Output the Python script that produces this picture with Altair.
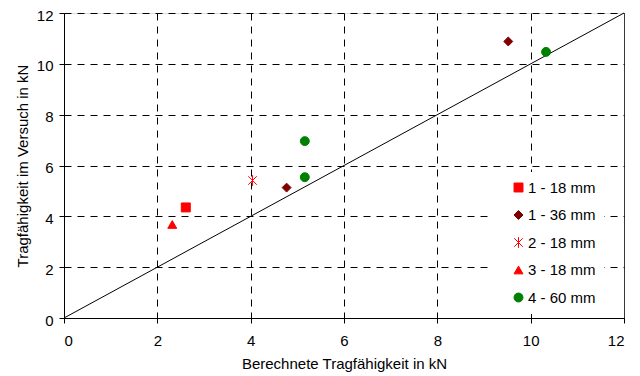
import altair as alt
import pandas as pd

series = ["1 - 18 mm", "1 - 36 mm", "1 - 36 mm", "2 - 18 mm", "3 - 18 mm", "4 - 60 mm", "4 - 60 mm", "4 - 60 mm"]
berechnet = [2.61, 4.77, 9.52, 4.04, 2.32, 5.16, 5.16, 10.33]
versuch = [4.35, 5.13, 10.88, 5.41, 3.68, 6.96, 5.54, 10.47]

legend_names = ["1 - 18 mm", "1 - 36 mm", "2 - 18 mm", "3 - 18 mm", "4 - 60 mm"]
legend_colors = ["#FF0000", "#800000", "#FF0000", "#FF0000", "#008000"]
legend_shapes = ["square", "diamond",
                 "M-0.95,-0.95L0.95,0.95M-0.95,0.95L0.95,-0.95M0,-1.2L0,1.2",
                 "triangle-up", "circle"]

line_x = [0, 12]
line_y = [0, 12]
ticks = [0, 2, 4, 6, 8, 10, 12]

df = pd.DataFrame({"Serie": series, "x": berechnet, "y": versuch})
ldf = pd.DataFrame({"x": line_x, "y": line_y})

FONT = "Liberation Sans"
FS = 15
DASH = [7, 6]

xscale = alt.Scale(domain=[0, 12], nice=False, zero=True)
yscale = alt.Scale(domain=[0, 12], nice=False, zero=True)

xaxis = alt.Axis(values=ticks, title="Berechnete Tragfähigkeit in kN", grid=True,
                 gridDash=alt.condition("datum.value == 12", alt.value([1, 0]), alt.value(DASH)),
                 gridColor="#000000", gridOpacity=1, gridWidth=1,
                 domainColor="#000000", tickColor="#000000", tickSize=5,
                 labelPadding=10, titlePadding=8, labelFont=FONT, titleFont=FONT,
                 labelFontSize=FS, titleFontSize=FS, labelColor="#000000",
                 titleColor="#000000", titleFontWeight="normal")
yaxis = alt.Axis(values=ticks, title="Tragfähigkeit im Versuch in kN", grid=True,
                 gridDash=DASH, gridColor="#000000", gridOpacity=1, gridWidth=1,
                 domainColor="#000000", tickColor="#000000", tickSize=5,
                 labelPadding=6, labelOffset=2, titlePadding=5.5, labelFont=FONT,
                 titleFont=FONT, labelFontSize=FS, titleFontSize=FS,
                 labelColor="#000000", titleColor="#000000", titleFontWeight="normal")

line = alt.Chart(ldf).mark_line(color="#000000", strokeWidth=1).encode(
    x=alt.X("x:Q", scale=xscale, axis=xaxis),
    y=alt.Y("y:Q", scale=yscale, axis=yaxis),
)

cscale = alt.Scale(domain=legend_names, range=legend_colors)
legend = alt.Legend(title=None, orient="none", legendX=424, legendY=159,
                    labelFont=FONT, labelFontSize=FS, labelColor="#000000",
                    rowPadding=11.5, symbolStrokeWidth=1, padding=8, labelOffset=2,
                    symbolOffset=15, symbolSize=80, fillColor="#FFFFFF")

points = alt.Chart(df).mark_point(filled=True, size=80, strokeWidth=1, opacity=1).encode(
    x=alt.X("x:Q", scale=xscale),
    y=alt.Y("y:Q", scale=yscale),
    color=alt.Color("Serie:N", scale=cscale, legend=legend),
    stroke=alt.Stroke("Serie:N", scale=cscale, legend=legend),
    shape=alt.Shape("Serie:N", scale=alt.Scale(domain=legend_names, range=legend_shapes), legend=legend),
)

chart = (line + points).properties(
    width=560, height=305,
    autosize=alt.AutoSizeParams(type="none"),
    padding={"left": 56, "top": 5, "right": 8, "bottom": 60},
).configure_view(stroke=None).configure(background="#ffffff")

chart.save("out.html", embed_options={"renderer": "svg", "actions": False})
